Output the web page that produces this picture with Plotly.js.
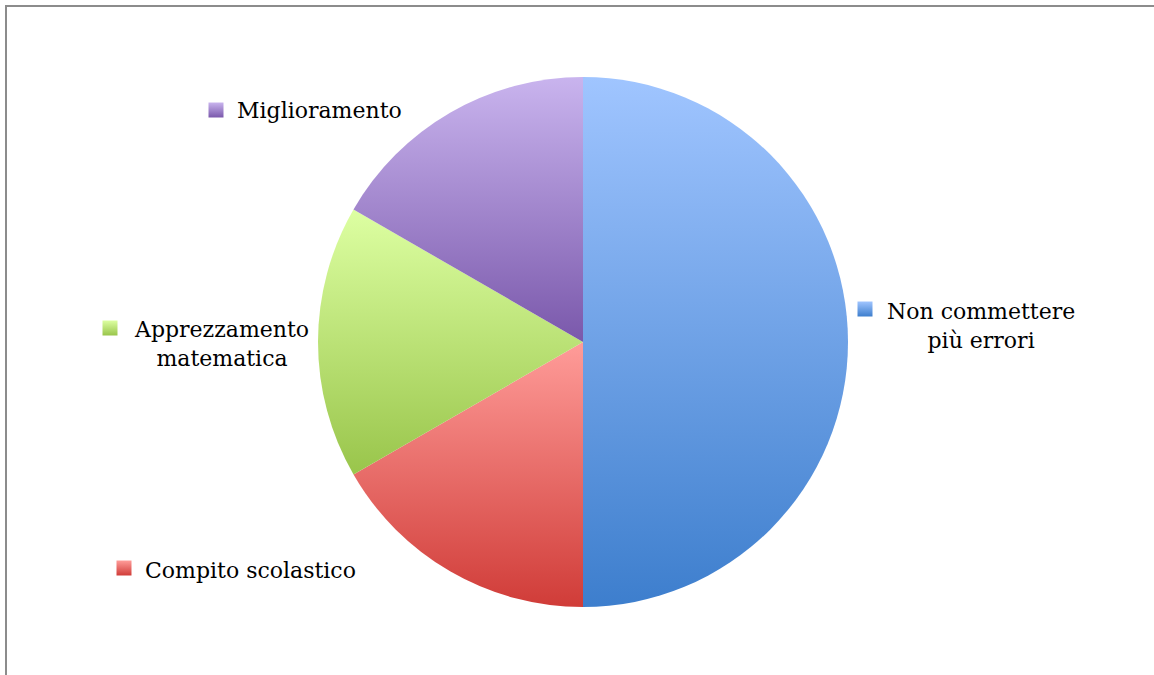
<!DOCTYPE html>
<html>
<head>
<meta charset="utf-8">
<script src="https://cdn.plot.ly/plotly-3.0.1.min.js"></script>
<style>html,body{margin:0;padding:0;background:#fff;}#chart{width:1154px;height:675px;}</style>
</head>
<body>
<div id="chart"></div>
<script>
// Data
const categories = ["Non commettere<br>più errori", "Compito scolastico", "Apprezzamento<br>matematica", "Miglioramento"];
const values = [3, 1, 1, 1];
// Gradient colours (top, bottom) per slice
const topColors = ["#a0c5ff", "#ff9c99", "#ddffa2", "#c9b4ee"];
const bottomColors = ["#3d7ecd", "#d03c38", "#99c54b", "#7a58ab"];
const midColors = ["#6fa2e8", "#e86b68", "#bde277", "#a286cd"];

const W = 1154, H = 675;
const px = x => x / W;
const py = y => 1 - y / H;

// Pie geometry (pixels)
const cx = 583, cy = 342, r = 265;

// label layout: [squareX, squareY, textX, textY, anchor]
const labelPos = [
  [865, 309, 981, 326, "center"],
  [124, 568, 143, 570, "left"],
  [110, 328, 221, 344, "center"],
  [216, 110, 235, 111, "left"]
];
const sq = 7.5;

const annotations = categories.map((c, i) => ({
  text: c, xref: "paper", yref: "paper",
  x: px(labelPos[i][2]), y: py(labelPos[i][3]),
  xanchor: labelPos[i][4], yanchor: "middle", align: "center",
  showarrow: false,
  font: {family: "DejaVu Serif", size: 22, color: "#000"}
}));

const shapes = [{
  type: "rect", xref: "paper", yref: "paper",
  x0: px(6), x1: 1.05, y0: -0.05, y1: py(6),
  line: {color: "#8c8c8c", width: 2}, fillcolor: "rgba(0,0,0,0)", layer: "below"
}].concat(categories.map((c, i) => ({
  type: "rect", xref: "paper", yref: "paper",
  x0: px(labelPos[i][0] - sq), x1: px(labelPos[i][0] + sq),
  y0: py(labelPos[i][1] + sq), y1: py(labelPos[i][1] - sq),
  line: {width: 0}, fillcolor: midColors[i]
})));

const data = [{
  type: "pie",
  labels: categories,
  values: values,
  sort: false,
  direction: "clockwise",
  rotation: 0,
  textinfo: "none",
  hoverinfo: "none",
  marker: {colors: midColors, line: {width: 0}},
  domain: {x: [px(cx - r), px(cx + r)], y: [py(cy + r), py(cy - r)]},
  showlegend: false
}];

const layout = {
  width: W, height: H,
  margin: {l: 0, r: 0, t: 0, b: 0},
  paper_bgcolor: "#fff",
  showlegend: false,
  annotations: annotations,
  shapes: shapes
};

Plotly.newPlot("chart", data, layout, {staticPlot: true, displayModeBar: false}).then(gd => {
  const svg = gd.querySelector("svg.main-svg");
  const ns = "http://www.w3.org/2000/svg";
  let defs = svg.querySelector("defs");
  if (!defs) { defs = document.createElementNS(ns, "defs"); svg.insertBefore(defs, svg.firstChild); }
  topColors.forEach((t, i) => {
    const g = document.createElementNS(ns, "linearGradient");
    g.setAttribute("id", "sliceGrad" + i);
    g.setAttribute("x1", "0"); g.setAttribute("y1", "0");
    g.setAttribute("x2", "0"); g.setAttribute("y2", "1");
    const s1 = document.createElementNS(ns, "stop");
    s1.setAttribute("offset", "0"); s1.setAttribute("stop-color", t);
    const s2 = document.createElementNS(ns, "stop");
    s2.setAttribute("offset", "1"); s2.setAttribute("stop-color", bottomColors[i]);
    g.appendChild(s1); g.appendChild(s2);
    defs.appendChild(g);
  });
  const slices = gd.querySelectorAll("g.slice path.surface");
  slices.forEach((p, i) => { p.style.fill = "url(#sliceGrad" + i + ")"; });
  const shapePaths = gd.querySelectorAll(".shapelayer path");
  shapePaths.forEach((p) => {
    const idx = parseInt(p.getAttribute("data-index"), 10);
    if (idx >= 1) p.style.fill = "url(#sliceGrad" + (idx - 1) + ")";
  });
});
</script>
</body>
</html>
